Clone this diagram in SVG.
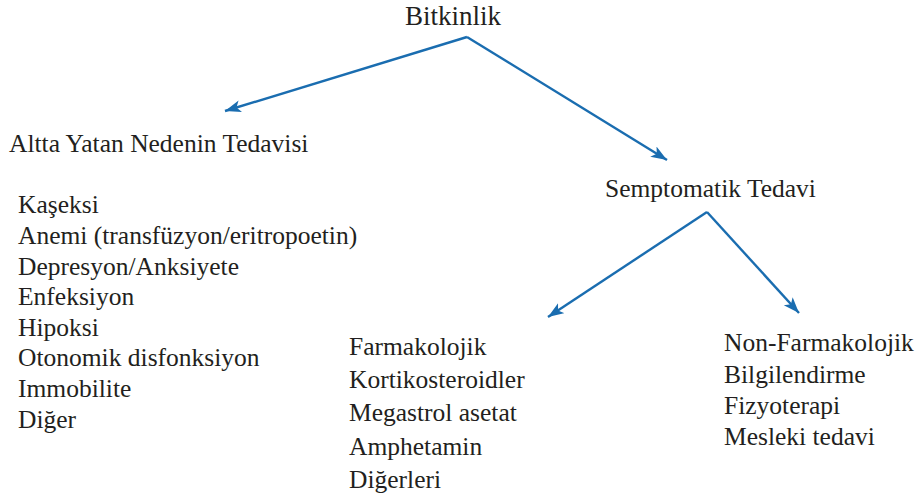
<svg xmlns="http://www.w3.org/2000/svg" width="923" height="500" viewBox="0 0 923 500">
<style>
.c{stroke:#1a6db0;stroke-width:2.4;fill:none}
.t{font-family:"Liberation Serif","Times New Roman",serif;font-size:25.5px;fill:#231f20}
.big{font-size:27px}
</style>
<defs>
<marker id="ah" markerUnits="userSpaceOnUse" markerWidth="18" markerHeight="14" refX="16" refY="6" orient="auto">
<path d="M0,0 L16,6 L0,12 L4,6 Z" fill="#1a6db0"/>
</marker>
</defs>
<rect width="923" height="500" fill="#fff"/>
<g id="connectors">
<polyline class="c" points="467,37 225,111" marker-end="url(#ah)"/>
<polyline class="c" points="467,37 667,160" marker-end="url(#ah)"/>
<polyline class="c" points="707,212 548,317" marker-end="url(#ah)"/>
<polyline class="c" points="707,212 799,313" marker-end="url(#ah)"/>
</g>
<g id="bitkinlik"><text class="t big" x="405" y="25">Bitkinlik</text></g>
<g id="altta"><text class="t" x="9" y="152">Altta Yatan Nedenin Tedavisi</text></g>
<g id="altta-list">
<text class="t" x="18" y="213">Kaşeksi</text>
<text class="t" x="18" y="244">Anemi (transfüzyon/eritropoetin)</text>
<text class="t" x="18" y="274.5">Depresyon/Anksiyete</text>
<text class="t" x="18" y="305">Enfeksiyon</text>
<text class="t" x="18" y="336">Hipoksi</text>
<text class="t" x="18" y="366">Otonomik disfonksiyon</text>
<text class="t" x="18" y="397">Immobilite</text>
<text class="t" x="18" y="428">Diğer</text>
</g>
<g id="semptomatik"><text class="t" x="605" y="197">Semptomatik Tedavi</text></g>
<g id="farmakolojik">
<text class="t" x="349" y="355">Farmakolojik</text>
<text class="t" x="349" y="388">Kortikosteroidler</text>
<text class="t" x="349" y="421">Megastrol asetat</text>
<text class="t" x="349" y="455">Amphetamin</text>
<text class="t" x="349" y="488">Diğerleri</text>
</g>
<g id="non-farmakolojik">
<text class="t" x="724" y="351">Non-Farmakolojik</text>
<text class="t" x="724" y="383">Bilgilendirme</text>
<text class="t" x="724" y="414">Fizyoterapi</text>
<text class="t" x="724" y="445">Mesleki tedavi</text>
</g>
</svg>
